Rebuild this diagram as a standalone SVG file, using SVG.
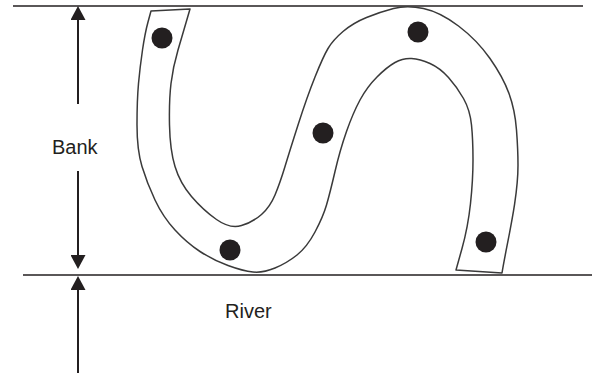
<svg xmlns="http://www.w3.org/2000/svg" width="592" height="373" viewBox="0 0 592 373">
<style>
.edge{stroke:#231f20;stroke-width:1.6;fill:none}
.arrow{stroke:#231f20;stroke-width:2;fill:none}
.band{stroke:#3a3a3a;stroke-width:1.5;fill:#fff;stroke-linejoin:round}
.dot{fill:#231f20}
.lbl{font-family:"Liberation Sans",Arial,sans-serif;font-size:20px;fill:#231f20}
</style>
<defs>
<marker id="ah" markerUnits="userSpaceOnUse" viewBox="0 0 14 15" refX="0" refY="7.5" markerWidth="14" markerHeight="15" orient="auto">
<path d="M0,0 L14,7.5 L0,15 Z" fill="#231f20"/>
</marker>
</defs>
<g id="bank-lines">
<line class="edge" x1="13" y1="6" x2="583" y2="6"/>
<line class="edge" x1="23" y1="275" x2="592" y2="275"/>
</g>
<g id="river-band">
<path class="band" d="M151,11 L148,22 Q145,33 142.5,50 Q140,67 138.5,83.5 Q137,100 137,125 Q137,150 142,166.5 Q147,183 155,200 Q163,217 175,230 Q187,243 200,251.5 Q213,260 228,265.5 Q243,271 253,272 Q263,273 275,268 Q287,263 297,255 Q307,247 315,232 Q323,217 326.5,205 Q330,193 335,171.5 Q340,150 346.5,131.5 Q353,113 360,100 Q367,87 377,77 Q387,67 395,62.5 Q403,58 411.5,58.5 Q420,59 430,63.5 Q440,68 448.5,77.5 Q457,87 463.5,98.5 Q470,110 471.5,125 Q473,140 473,160 Q473,180 470.5,203.5 Q468,227 462,248.5 L456,270 L502,273 C507,242 518,200 518,165 Q518,150 516.5,130 Q515,110 509,93.5 Q503,77 490,58.5 Q477,40 458.5,26 Q440,12 423.5,8.5 Q407,5 393.5,8.5 Q380,12 366.5,17.5 Q353,23 343,31.5 Q333,40 328,48.5 Q323,57 315,77 Q307,97 298.5,123.5 Q290,150 285,166.5 Q280,183 275,195 Q270,207 261.5,214.5 Q253,222 241.5,225.5 Q230,229 216.5,219.5 Q203,210 191.5,196.5 Q180,183 175,166.5 Q170,150 169.5,125 Q169,100 171,83.5 Q173,67 178,50 Q183,33 186.5,21 L190,9 Z"/>
</g>
<g id="dots">
<circle class="dot" cx="162" cy="38" r="10.5"/>
<circle class="dot" cx="418" cy="32" r="10.5"/>
<circle class="dot" cx="323" cy="133" r="10.5"/>
<circle class="dot" cx="230" cy="250" r="10.5"/>
<circle class="dot" cx="486" cy="242" r="10.5"/>
</g>
<g id="connectors">
<line class="arrow" x1="78" y1="104" x2="78" y2="20" marker-end="url(#ah)"/>
<line class="arrow" x1="78" y1="171" x2="78" y2="255" marker-end="url(#ah)"/>
<line class="arrow" x1="78" y1="373" x2="78" y2="290" marker-end="url(#ah)"/>
</g>
<g id="label-bank"><text class="lbl" x="52" y="154">Bank</text></g>
<g id="label-river"><text class="lbl" x="225" y="318">River</text></g>
</svg>
